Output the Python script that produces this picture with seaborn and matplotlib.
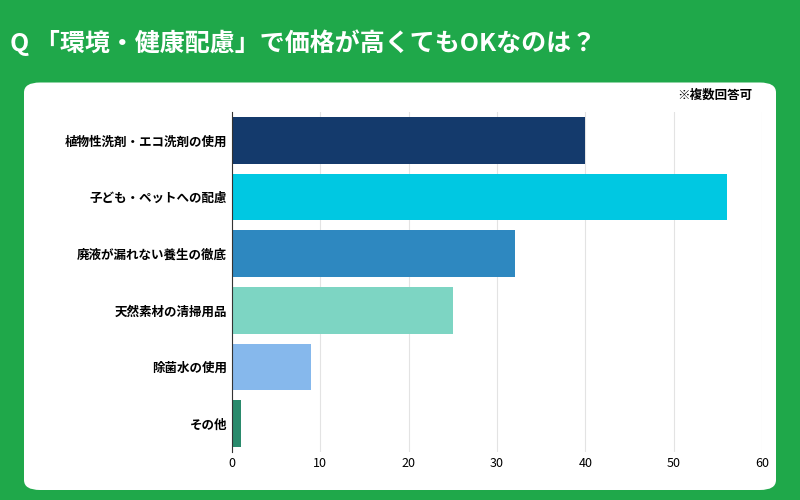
import matplotlib
matplotlib.use("Agg")
import matplotlib.pyplot as plt
import seaborn as sns
import pandas as pd
from matplotlib.patches import FancyBboxPatch

plt.rcParams["font.family"] = "Noto Sans CJK JP"

categories = ["植物性洗剤・エコ洗剤の使用", "子ども・ペットへの配慮", "廃液が漏れない養生の徹底",
              "天然素材の清掃用品", "除菌水の使用", "その他"]
values = [40, 56, 32, 25, 9, 1]
colors = ["#143a6c", "#00c8e2", "#2e88c0", "#7dd5c3", "#86b8ec", "#2a8a6c"]
xticks = [0, 10, 20, 30, 40, 50, 60]

df = pd.DataFrame({"cat": categories, "val": values})

fig = plt.figure(figsize=(8, 5), dpi=100)
fig.patch.set_facecolor("#1fa84a")
bg = fig.add_axes([0, 0, 1, 1], zorder=-1)
bg.set_xlim(0, 1); bg.set_ylim(0, 1); bg.axis("off")
bg.add_patch(FancyBboxPatch((0.03, 0.02), 0.94, 0.815, boxstyle="round,pad=0,rounding_size=0.02",
                            facecolor="white", edgecolor="none"))
fig.text(0.012, 0.915, "Q 「環境・健康配慮」で価格が高くてもOKなのは？", color="white",
         fontsize=18, fontweight="bold", va="center")
fig.text(0.94, 0.81, "※複数回答可", fontsize=9, fontweight="bold", ha="right", va="center")

ax = fig.add_axes([0.29, 0.096, 0.6625, 0.68], zorder=1)
ax.set_facecolor("none")
sns.barplot(data=df, x="val", y="cat", hue="cat", palette=colors, legend=False,
            width=0.82, ax=ax, saturation=1)
ax.set_xlim(0, 60)
ax.set_xticks(xticks)
ax.grid(axis="x", color="#e3e3e3", linewidth=0.8)
ax.set_axisbelow(True)
for s in ["top", "right", "bottom"]:
    ax.spines[s].set_visible(False)
ax.spines["left"].set_color("#333333")
ax.tick_params(axis="both", length=0, labelsize=9)
for t in ax.get_yticklabels():
    t.set_fontweight("bold")
ax.set_xlabel("")
ax.set_ylabel("")
fig.savefig("out.png", dpi=100, facecolor=fig.get_facecolor())
